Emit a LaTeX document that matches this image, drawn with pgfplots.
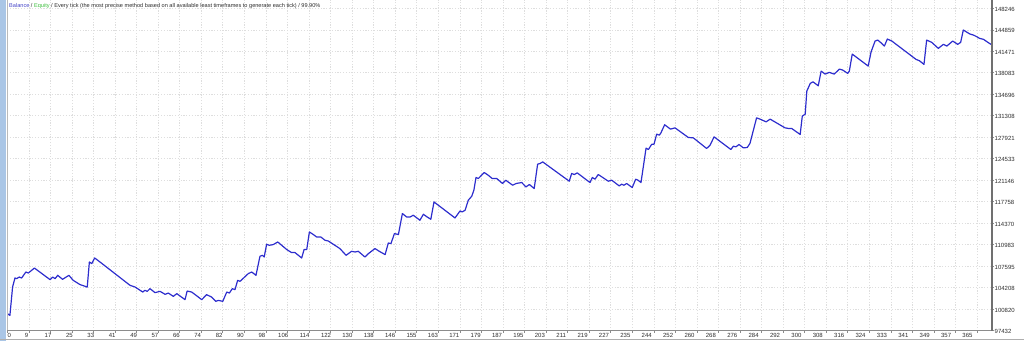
\documentclass[border=0pt]{standalone}
\usepackage{fontspec}
\setmainfont{Liberation Sans}
\usepackage{pgfplots}
\pgfplotsset{compat=1.18}
\definecolor{bal}{RGB}{45,45,205}
\definecolor{baltxt}{RGB}{70,70,200}
\definecolor{eqtxt}{RGB}{60,190,60}
\definecolor{gridc}{RGB}{222,222,222}
\definecolor{axc}{RGB}{140,140,140}
\definecolor{leftbar}{RGB}{170,198,230}
\definecolor{txt}{RGB}{45,45,45}
\begin{document}
\begin{tikzpicture}[x=1pt,y=1pt]
\path[use as bounding box] (0,0) rectangle (1024,341);
\fill[leftbar] (0,0) rectangle (5.5,341);
\begin{axis}[
  at={(7pt,10.3pt)}, anchor=south west,
  scale only axis, width=985pt, height=330.7pt,
  xmin=-0.1, xmax=370.6, ymin=97432, ymax=149556,
  axis line style={draw=none},
  clip=true,
  grid=major,
  major grid style={gridc, line width=0.6pt, dash pattern=on 1.2pt off 1.6pt},
  tick align=outside, major tick length=2pt,
  tick style={axc, line width=0.6pt},
  xtick pos=lower, ytick pos=right, yticklabel pos=right,
  xtick={0,8.1107,...,366},
  xticklabels={},
  extra x ticks={0.75,7.30,15.35,23.39,31.44,39.49,47.54,55.58,63.63,71.68,79.72,87.77,95.82,103.86,111.91,119.96,128.01,136.05,144.10,152.15,160.19,168.24,176.29,184.33,192.38,200.43,208.48,216.52,224.57,232.62,240.66,248.71,256.76,264.80,272.85,280.90,288.95,296.99,305.04,313.09,321.13,329.18,337.23,345.27,353.32,361.37},
  extra x tick labels={0,9,17,25,33,41,49,57,66,74,82,90,98,106,114,122,130,138,146,155,163,171,179,187,195,203,211,219,227,235,244,252,260,268,276,284,292,300,308,316,324,333,341,349,357,365},
  extra x tick style={grid=none, major tick length=0pt, xticklabel style={yshift=-2pt}},
  ytick={97432,100820,104208,107595,110983,114370,117758,121146,124533,127921,131308,134696,138083,141471,144859,148246},
  yticklabels={97432,100820,104208,107595,110983,114370,117758,121146,124533,127921,131308,134696,138083,141471,144859,148246},
  xticklabel style={font=\fontsize{6}{7}\selectfont, text=txt, inner sep=0pt, anchor=north},
  yticklabel style={font=\fontsize{6}{7}\selectfont, text=txt, inner sep=0.5pt, anchor=west, yshift=-1pt},
  /pgf/number format/assume math mode=true,
]
\addplot[bal, line width=1.2pt, line join=round] coordinates {
(0,100117)(1.0,99849)(2.0,104315)(2.9,105735)(3.5,105640)(4.5,105893)(5.4,105735)(7.0,106682)(7.9,106524)(9.2,106950)(10.2,107313)(16.1,105482)(17.1,105893)(18.0,105640)(19.0,106161)(20.8,105530)(23.2,106161)(24.8,105372)(27.4,104693)(30.1,104315)(30.9,108260)(31.8,108007)(32.9,108891)(34.9,108260)(46.2,104583)(48.1,104315)(51.0,103526)(51.8,103794)(52.7,103636)(53.7,104062)(55.6,103431)(57.5,103636)(59.4,103163)(60.6,103368)(62.5,102847)(63.8,103273)(66.9,102326)(67.7,103684)(69.4,103526)(73.2,102326)(75.0,103115)(76.9,102737)(78.5,102058)(79.4,102216)(81.1,102058)(82.6,103526)(83.6,103368)(84.7,104062)(85.7,103904)(86.7,105372)(87.6,105214)(90.7,106429)(92.0,106682)(93.6,106161)(95.1,109159)(96.0,109317)(96.7,109049)(97.6,111053)(98.6,110895)(100.1,111005)(101.8,111416)(105.2,110216)(107.0,109743)(108.3,109743)(110.8,108891)(111.7,110216)(112.7,110216)(113.7,112994)(115.2,112583)(116.4,112205)(118.0,112205)(119.6,111684)(120.8,111574)(125.2,110374)(127.5,109317)(129.6,109948)(130.9,109838)(132.1,109948)(134.6,109049)(135.9,109585)(138.4,110374)(140.0,109948)(142.2,109427)(143.4,111258)(144.4,111163)(145.7,112741)(147.2,112583)(148.7,115897)(150.3,115361)(151.6,115361)(152.8,115629)(155.3,114840)(156.6,115787)(157.9,115392)(159.4,114998)(160.6,117728)(168.5,115203)(170.4,116308)(171.2,116150)(172.3,116418)(173.5,117996)(174.8,118627)(175.6,119574)(176.4,121578)(177.3,121420)(179.5,122367)(181.0,121941)(182.5,121420)(184.2,121420)(186.4,120631)(187.6,121152)(190.2,120363)(191.5,120631)(193.6,120789)(195.2,120095)(196.5,120473)(198.3,119842)(199.6,123677)(200.5,123787)(201.5,124040)(211.5,120994)(212.4,122209)(213.4,122051)(214.5,122304)(219.3,120789)(220.2,121578)(221.2,121310)(222.4,122051)(226.2,120994)(227.5,121152)(230.3,120253)(231.2,120521)(232.1,120363)(233.1,120631)(234.0,120363)(235.2,120000)(236.5,121310)(237.4,121152)(238.5,120789)(240.4,126202)(241.3,125996)(242.5,126801)(243.4,126833)(244.4,128411)(245.4,128253)(246.0,128616)(247.4,129894)(249.6,129200)(251.3,129405)(256.3,127890)(258.2,127827)(263.2,126154)(264.5,126675)(266.0,127985)(272.3,125996)(273.3,126517)(274.2,126407)(275.4,126785)(277.0,126249)(278.5,126312)(279.5,126943)(282.0,130983)(283.3,130778)(285.6,130352)(287.1,130778)(292.7,129405)(294.0,129310)(295.2,129310)(298.4,128363)(299.2,131251)(300.3,131567)(300.9,135196)(302.2,136411)(303.2,136664)(305.2,136033)(306.3,138352)(307.8,137879)(309.4,138147)(311.2,137879)(313.2,138668)(314.4,138510)(316.3,137989)(316.9,138352)(318.0,141035)(324.0,139141)(325.1,141398)(326.6,143086)(327.6,143244)(328.8,142818)(330.1,142297)(331.2,143402)(332.9,143086)(342.0,140198)(343.3,139978)(345.0,139409)(346.0,143244)(347.9,142881)(350.4,141934)(352.3,142565)(353.6,142297)(355.8,143086)(357.7,142565)(358.8,142881)(359.8,144822)(362.3,144191)(363.6,144033)(364.9,143765)(365.9,143512)(367.4,143354)(369.6,142723)(370.4,142534)
};
\end{axis}
\draw[axc!60, line width=0.8pt] (7,10.3) -- (7,341);
\draw[axc, line width=0.8pt] (7,10.3) -- (992,10.3);
\draw[axc!80!black, line width=1.2pt] (992,10.3) -- (992,341);
\draw[axc!70, line width=0.8pt] (0,1.6) -- (1024,1.6);
\node[anchor=west, inner sep=0pt, font=\fontsize{5.6}{6.5}\selectfont, text=txt] at (9,335)
  {{\color{baltxt}Balance} / {\color{eqtxt}Equity} / Every tick (the most precise method based on all available least timeframes to generate each tick) / 99.90\%};
\end{tikzpicture}
\end{document}
